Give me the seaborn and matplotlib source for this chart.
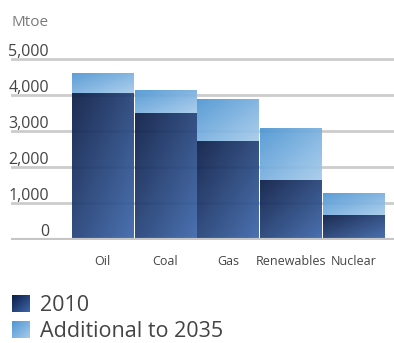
import numpy as np
import pandas as pd
import matplotlib
matplotlib.use("Agg")
import matplotlib.pyplot as plt
import seaborn as sns
from matplotlib.colors import LinearSegmentedColormap
from matplotlib.legend_handler import HandlerBase
from matplotlib.image import BboxImage
from matplotlib.transforms import Bbox, TransformedBbox
from matplotlib.patches import Patch

# Data (Mtoe)
fuels = ["Oil", "Coal", "Gas", "Renewables", "Nuclear"]
demand_2010 = [4050, 3510, 2730, 1650, 680]
demand_2035 = [4620, 4140, 3880, 3080, 1280]

yticks = [0, 1000, 2000, 3000, 4000, 5000]
ytick_labels = ["0", "1,000", "2,000", "3,000", "4,000", "5,000"]
series_names = ["2010", "Additional to 2035"]

df = pd.DataFrame({"fuel": fuels, "y2010": demand_2010, "y2035": demand_2035})

# colour ramps: dark top-left -> light bottom-right
cmap_2010 = LinearSegmentedColormap.from_list("c2010", ["#0c1d46", "#3d67ab"])
cmap_add = LinearSegmentedColormap.from_list("cadd", ["#4f96d3", "#a6cbeb"])

n = 64
xx, yy = np.meshgrid(np.linspace(0, 1, n), np.linspace(0, 1, n))
grad = (xx + yy) / 2

sns.set_style("white")
plt.rcParams['font.family'] = ['Open Sans', 'DejaVu Sans']

fig = plt.figure(figsize=(3.94, 3.43), dpi=100)
ax = fig.add_axes([11 / 394, 1 - 239.5 / 343, 383 / 394, (239.5 - 51.8) / 343])

# total bars first (the "additional" part shows above the 2010 bars)
sns.barplot(data=df, x="fuel", y="y2035", color="#7ab3e2", width=0.975, ax=ax)
sns.barplot(data=df, x="fuel", y="y2010", color="#1f3a70", width=0.975, ax=ax)

# replace flat fills with diagonal gradients clipped to each bar
bars = list(ax.patches)
for i, p in enumerate(bars):
    x0 = p.get_x()
    x1 = x0 + p.get_width()
    top = p.get_height()
    if i < len(fuels):
        bottom = demand_2010[i]
        cmap = cmap_add
    else:
        bottom = 0
        cmap = cmap_2010
    p.set_facecolor("none")
    p.set_edgecolor("none")
    im = ax.imshow(grad, cmap=cmap, extent=(x0, x1, bottom, top), origin="upper",
                   aspect="auto", interpolation="bilinear", alpha=0.93, zorder=2)
    im.set_clip_path(p)
ax.set_xlim(-1.46, 4.65)
ax.set_ylim(0, 5200)

# gridlines
ax.set_yticks(yticks)
ax.set_yticklabels([])
ax.yaxis.grid(True, color="#cccccc", linewidth=2)
ax.set_axisbelow(True)
ax.axhline(0, color="#c6c6c6", linewidth=3, zorder=3)
ax.tick_params(axis="y", left=False, length=0)
for s in ax.spines.values():
    s.set_visible(False)

# y labels sit just above their gridline
ytrans = ax.get_yaxis_transform()
for t, lab in zip(yticks, ytick_labels):
    ax.text((49 - 11) / 383, t + 95, lab, transform=ytrans, ha="right", va="baseline",
            fontsize=11.5, color="#444444")
fig.text(49 / 394, 1 - 26 / 343, "Mtoe", ha="right", va="baseline", fontsize=11, color="#7a7a7a")

ax.set_xlabel("")
ax.set_ylabel("")
ax.tick_params(axis="x", bottom=False, length=0, pad=11, labelsize=9, labelcolor="#444444")


class GradientHandler(HandlerBase):
    def __init__(self, cmap):
        super().__init__()
        self.cmap = cmap

    def create_artists(self, legend, orig_handle, xdescent, ydescent, width, height, fontsize, trans):
        bb = TransformedBbox(Bbox.from_bounds(-xdescent, -ydescent, width, height), trans)
        img = BboxImage(bb, cmap=self.cmap, interpolation="bilinear")
        img.set_data(grad)
        return [img]


h1 = Patch(color="#1f3a70")
h2 = Patch(color="#7ab3e2")
fig.legend([h1, h2], series_names, loc="upper left", bbox_to_anchor=(12 / 394, 1 - 295 / 343),
           frameon=False, fontsize=15.5, borderpad=0, borderaxespad=0, handlelength=0.8,
           handleheight=0.8, handletextpad=0.5, labelspacing=0.25, labelcolor="#444444",
           handler_map={h1: GradientHandler(cmap_2010), h2: GradientHandler(cmap_add)})

fig.savefig("out.png", dpi=100)
